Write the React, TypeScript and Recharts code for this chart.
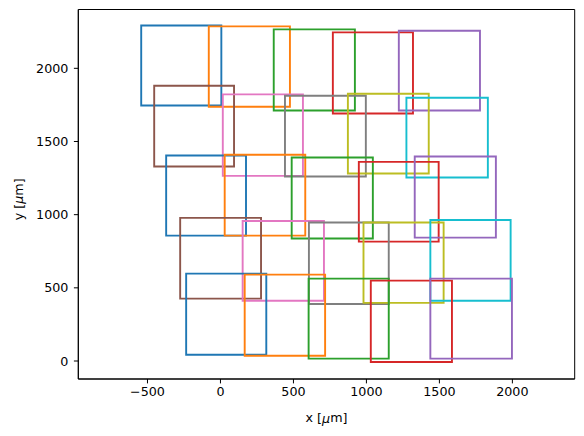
import React from "react";
import { ComposedChart, XAxis, YAxis, ReferenceArea } from "recharts";

// Rectangle extents (data units, µm), in plotting order
const rectX0 = [-543, -80, 365, 770, 1222, -454, 16, 442, 873, 1274, -372, 29, 488, 948, 1331, -276, 152, 606, 980, 1438, -235, 166, 604, 1030, 1438];
const rectX1 = [6, 476, 921, 1319, 1778, 93, 565, 996, 1427, 1832, 175, 581, 1044, 1495, 1887, 278, 709, 1153, 1529, 1988, 314, 717, 1153, 1586, 1997];
const rectY0 = [1746, 1737, 1712, 1691, 1712, 1329, 1265, 1261, 1281, 1254, 857, 857, 837, 816, 843, 426, 412, 390, 397, 412, 43, 36, 16, -7, 16];
const rectY1 = [2293, 2287, 2266, 2246, 2257, 1881, 1822, 1813, 1826, 1799, 1404, 1409, 1391, 1361, 1397, 978, 957, 946, 946, 964, 597, 590, 563, 549, 563];

const colorCycle = ["#1f77b4", "#ff7f0e", "#2ca02c", "#d62728", "#9467bd", "#8c564b", "#e377c2", "#7f7f7f", "#bcbd22", "#17becf"];

const xTicks = [-500, 0, 500, 1000, 1500, 2000];
const yTicks = [0, 500, 1000, 1500, 2000];
const xDomain = [-974, 2427];
const yDomain = [-123, 2402];

const FONT = "DejaVu Sans";
const fmt = (v: number) => String(v).replace("-", "\u2212");

const XLabel = (props: any) => {
  const vb = props.viewBox || {};
  const cx = vb.x + vb.width / 2;
  return (
    <text x={cx} y={vb.y + 38.5} textAnchor="middle" dominantBaseline="central" fontFamily={FONT} fontSize={12.7} fill="#000">
      x [<tspan fontStyle="italic">μ</tspan>m]
    </text>
  );
};

const YLabel = (props: any) => {
  const vb = props.viewBox || {};
  const cx = 18.3;
  const cy = vb.y + vb.height / 2 + 5;
  return (
    <text x={cx} y={cy} textAnchor="middle" dominantBaseline="central" fontFamily={FONT} fontSize={12.7} fill="#000" transform={`rotate(-90, ${cx}, ${cy})`}>
      y [<tspan fontStyle="italic">μ</tspan>m]
    </text>
  );
};

export default function App() {
  const tickStyle = { fill: "#000", fontSize: 12.7, fontFamily: FONT };
  return (
    <div style={{ position: "absolute", left: 0, top: 0, background: "#fff" }}>
      <ComposedChart width={584} height={436} margin={{ top: 9.5, right: 9.3, bottom: 0, left: 0 }} data={[]}>
        <XAxis
          type="number"
          dataKey="x"
          domain={xDomain}
          ticks={xTicks}
          allowDataOverflow
          height={57}
          tickSize={4.4}
          tickMargin={4}
          tick={tickStyle}
          tickFormatter={fmt}
          axisLine={{ stroke: "#000", strokeWidth: 1 }}
          tickLine={{ stroke: "#000", strokeWidth: 1 }}
          label={<XLabel />}
        />
        <YAxis
          type="number"
          dataKey="y"
          domain={yDomain}
          ticks={yTicks}
          allowDataOverflow
          width={78.3}
          tickSize={4.4}
          tickMargin={5.5}
          tick={tickStyle}
          tickFormatter={fmt}
          axisLine={{ stroke: "#000", strokeWidth: 1 }}
          tickLine={{ stroke: "#000", strokeWidth: 1 }}
          label={<YLabel />}
        />
        <ReferenceArea
          x1={xDomain[0]}
          x2={xDomain[1]}
          y1={yDomain[0]}
          y2={yDomain[1]}
          fill="none"
          stroke="#000"
          strokeWidth={1}
          ifOverflow="visible"
        />
        {rectX0.map((x0, i) => (
          <ReferenceArea
            key={i}
            x1={x0}
            x2={rectX1[i]}
            y1={rectY0[i]}
            y2={rectY1[i]}
            fill="none"
            stroke={colorCycle[i % colorCycle.length]}
            strokeWidth={1.9}
            ifOverflow="visible"
          />
        ))}
      </ComposedChart>
    </div>
  );
}
